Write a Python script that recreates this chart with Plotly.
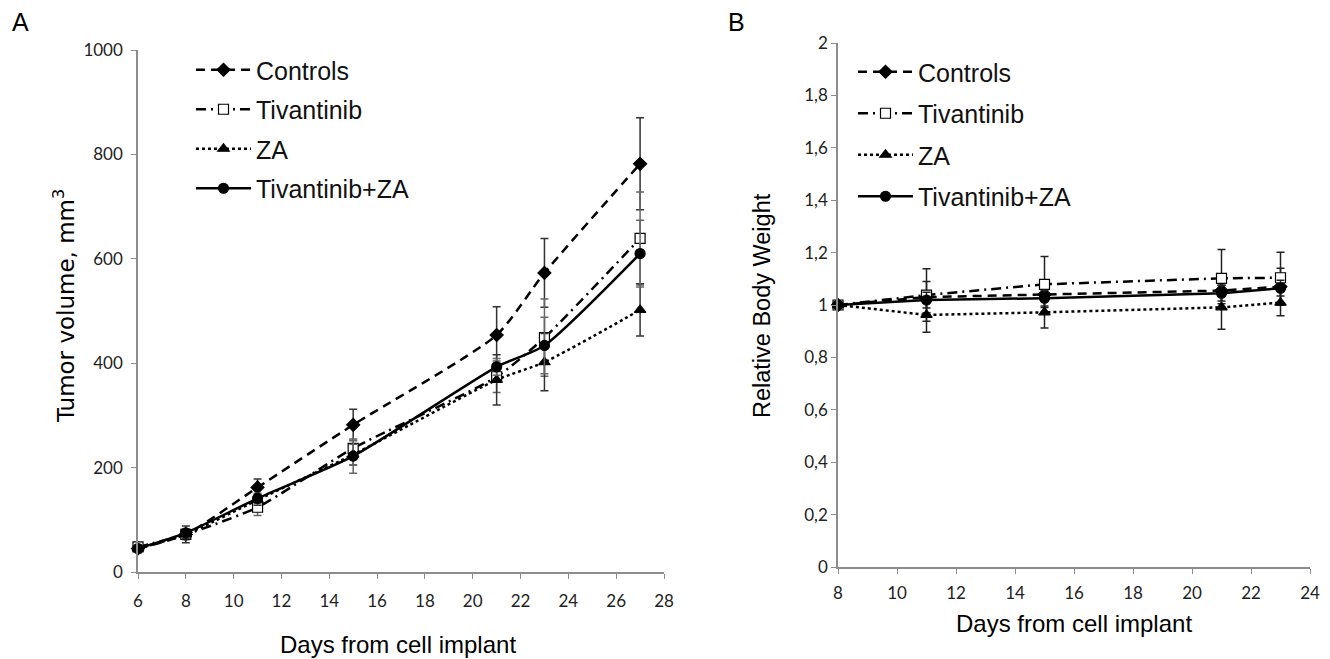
import plotly.graph_objects as go

# ---------------- data: panel A (tumor volume) ----------------
days_a = [6, 8, 11, 15, 21, 23, 27]
ctrl_a = [45, 72, 162, 282, 454, 573, 782]
ctrl_a_err = [8, 16, 16, 30, 54, 66, 88]
tiv_a = [48, 72, 124, 237, 374, 449, 639]
tiv_a_err = [6, 10, 16, 15, 30, 74, 89]
za_a = [45, 72, 138, 225, 368, 402, 502]
za_a_err = [6, 8, 10, 20, 48, 55, 50]
tivza_a = [45, 75, 141, 222, 393, 434, 610]
tivza_a_err = [6, 8, 10, 33, 16, 54, 64]

# ---------------- data: panel B (relative body weight) ----------------
days_b = [8, 11, 15, 21, 23]
ctrl_b = [1.0, 1.03, 1.04, 1.055, 1.07]
ctrl_b_err = [0.0, 0.06, 0.05, 0.05, 0.07]
tiv_b = [1.0, 1.038, 1.079, 1.102, 1.104]
tiv_b_err = [0.0, 0.10, 0.106, 0.11, 0.097]
za_b = [1.0, 0.962, 0.972, 0.991, 1.009]
za_b_err = [0.0, 0.066, 0.06, 0.084, 0.05]
tivza_b = [1.0, 1.019, 1.026, 1.045, 1.064]
tivza_b_err = [0.0, 0.03, 0.03, 0.03, 0.03]

names = ["Controls", "Tivantinib", "ZA", "Tivantinib+ZA"]
xticks_a = [6, 8, 10, 12, 14, 16, 18, 20, 22, 24, 26, 28]
yticks_a = [0, 200, 400, 600, 800, 1000]
xticks_b = [8, 10, 12, 14, 16, 18, 20, 22, 24]
yticks_b = [0, 0.2, 0.4, 0.6, 0.8, 1.0, 1.2, 1.4, 1.6, 1.8, 2.0]
yticktext_b = ["0", "0,2", "0,4", "0,6", "0,8", "1", "1,2", "1,4", "1,6", "1,8", "2"]

NARROW = "Liberation Sans Narrow, Arial Narrow, Liberation Sans"
TICKFONT = dict(family="Lato, Open Sans, Liberation Sans", size=17, color="#222")
LEGFONT = dict(family=NARROW, size=25, color="#111")

W, H = 1330, 659
ML, MR, MT, MB = 30, 8, 30, 30
OFF = 8  # page offset of the plot div


def px_x(px):
    return (px - OFF - ML) / (W - ML - MR)


def px_y(py):
    return (H - MB - (py - OFF)) / (H - MT - MB)


styles = [
    dict(dash="9px,6px", symbol="diamond", mcolor="black", ecolor="#333"),
    dict(dash="10px,5px,2px,5px", symbol="square", mcolor="white", ecolor="#666"),
    dict(dash="dot", symbol="triangle-up", mcolor="black", ecolor="#333"),
    dict(dash="solid", symbol="circle", mcolor="black", ecolor="#666"),
]

fig = go.Figure()

series_a = [(ctrl_a, ctrl_a_err), (tiv_a, tiv_a_err), (za_a, za_a_err), (tivza_a, tivza_a_err)]
for name, (vals, errs), st in zip(names, series_a, styles):
    fig.add_trace(go.Scatter(
        x=days_a, y=vals, name=name, mode="lines+markers",
        line=dict(color="black", width=2.5, dash=st["dash"], shape="spline", smoothing=0.6),
        marker=dict(symbol=st["symbol"], size=10, color=st["mcolor"], line=dict(color="black", width=1.2)),
        error_y=dict(type="data", array=errs, visible=True, color=st["ecolor"], thickness=1.5, width=4),
        xaxis="x", yaxis="y", legend="legend", cliponaxis=False,
        legendgroup="a" + name,
    ))

series_b = [(ctrl_b, ctrl_b_err), (tiv_b, tiv_b_err), (za_b, za_b_err), (tivza_b, tivza_b_err)]
for name, (vals, errs), st in zip(names, series_b, styles):
    fig.add_trace(go.Scatter(
        x=days_b, y=vals, name=name, mode="lines+markers",
        line=dict(color="black", width=2.5, dash=st["dash"]),
        marker=dict(symbol=st["symbol"], size=10, color=st["mcolor"], line=dict(color="black", width=1.2)),
        error_y=dict(type="data", array=errs, visible=True, color="#222", thickness=1.5, width=4),
        xaxis="x2", yaxis="y2", legend="legend2", cliponaxis=False,
        legendgroup="b" + name,
    ))

axis_common = dict(showline=True, linecolor="#8c8c8c", linewidth=1.5, ticks="outside",
                   tickcolor="#8c8c8c", ticklen=5, showgrid=False, zeroline=False, tickfont=TICKFONT,
                   automargin=False)

leg_a = dict(font=LEGFONT, bgcolor="rgba(0,0,0,0)", tracegroupgap=4, itemwidth=55,
             xanchor="left", yanchor="top")
leg_b = dict(font=LEGFONT, bgcolor="rgba(0,0,0,0)", tracegroupgap=6, itemwidth=55,
             xanchor="left", yanchor="top")

title_font_a = dict(family="DejaVu Sans", size=23, color="black")
title_font_b = dict(family="Liberation Sans", size=23.5, color="black")
days_font = dict(family=NARROW, size=24, color="black")
panel_font = dict(family="Liberation Sans", size=25, color="black")

fig.update_layout(
    width=W, height=H,
    margin=dict(l=ML, r=MR, t=MT, b=MB),
    paper_bgcolor="white", plot_bgcolor="white",
    xaxis=dict(domain=[px_x(138), px_x(664)], range=[6, 28], tickvals=xticks_a, anchor="y",
               ticklabelstandoff=8, **axis_common),
    yaxis=dict(domain=[px_y(572), px_y(50)], range=[0, 1000], tickvals=yticks_a, anchor="x",
               ticklabelstandoff=5, **axis_common),
    xaxis2=dict(domain=[px_x(838), px_x(1310)], range=[8, 24], tickvals=xticks_b, anchor="y2",
                ticklabelstandoff=5, **axis_common),
    yaxis2=dict(domain=[px_y(567), px_y(43)], range=[0, 2], tickvals=yticks_b, ticktext=yticktext_b,
                anchor="x2", **axis_common),
    legend=dict(x=px_x(191), y=px_y(47), **leg_a),
    legend2=dict(x=px_x(853), y=px_y(49), **leg_b),
    annotations=[
        dict(text="A", x=px_x(10), y=px_y(22), xref="paper", yref="paper", showarrow=False,
             xanchor="left", yanchor="middle", font=panel_font),
        dict(text="B", x=px_x(726), y=px_y(22), xref="paper", yref="paper", showarrow=False,
             xanchor="left", yanchor="middle", font=panel_font),
        dict(text="Tumor volume, mm<sup>3</sup>", x=px_x(64), y=px_y(306), xref="paper", yref="paper",
             showarrow=False, textangle=-90, xanchor="center", yanchor="middle", font=title_font_a),
        dict(text="Days from cell implant", x=px_x(398), y=px_y(644), xref="paper", yref="paper",
             showarrow=False, xanchor="center", yanchor="middle", font=days_font),
        dict(text="Relative Body Weight", x=px_x(762), y=px_y(306), xref="paper", yref="paper",
             showarrow=False, textangle=-90, xanchor="center", yanchor="middle", font=title_font_b),
        dict(text="Days from cell implant", x=px_x(1074), y=px_y(623), xref="paper", yref="paper",
             showarrow=False, xanchor="center", yanchor="middle", font=days_font),
    ],
)

fig.write_html("out.html")
